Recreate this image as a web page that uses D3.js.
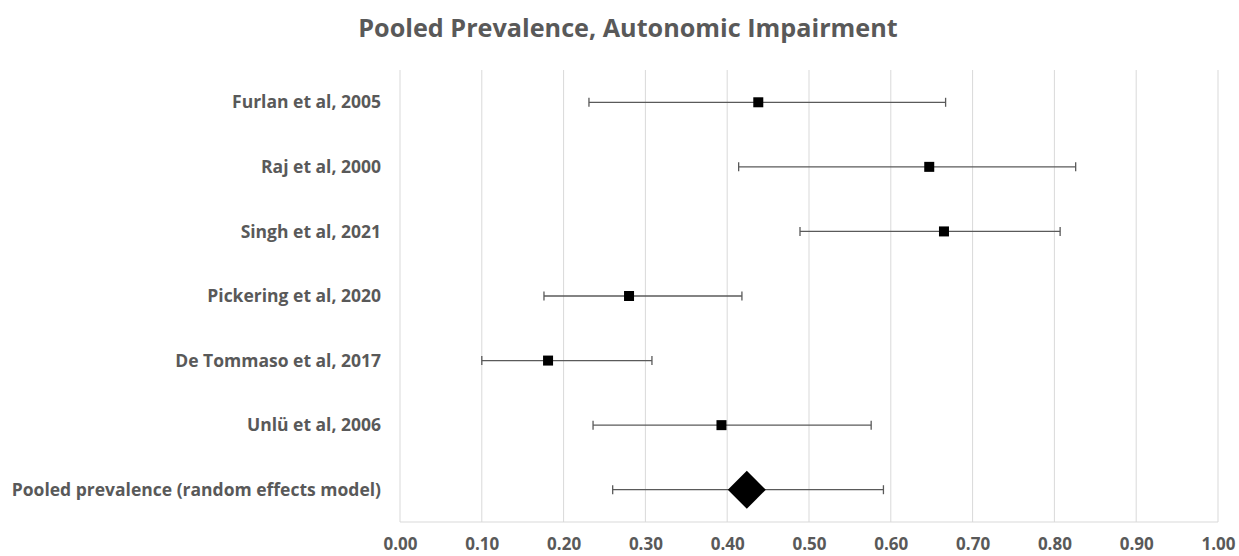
<!DOCTYPE html>
<html>
<head>
<meta charset="utf-8">
<script src="https://cdn.jsdelivr.net/npm/d3@7"></script>
<style>
  body { margin: 0; background: #fff; }
  text { font-family: "Open Sans", Lato, sans-serif; font-weight: bold; fill: #595959; }
</style>
</head>
<body>
<div class="graph"></div>
<script>
// study rows, top to bottom
const studies = ["Furlan et al, 2005", "Raj et al, 2000", "Singh et al, 2021",
  "Pickering et al, 2020", "De Tommaso et al, 2017", "Unlü et al, 2006",
  "Pooled prevalence (random effects model)"];
const prevalence = [0.438, 0.647, 0.665, 0.280, 0.181, 0.393, 0.424];
const lowerCI = [0.231, 0.414, 0.489, 0.176, 0.100, 0.236, 0.260];
const upperCI = [0.667, 0.826, 0.807, 0.418, 0.308, 0.576, 0.591];
const xTicks = [0, 0.1, 0.2, 0.3, 0.4, 0.5, 0.6, 0.7, 0.8, 0.9, 1.0];

var W = 1239, H = 556;
var margin = {top: 70, right: 21, bottom: 34, left: 400};
var width = W - margin.left - margin.right,
    height = H - margin.top - margin.bottom;

var svg = d3.select(".graph")
  .append("svg")
    .attr("width", W)
    .attr("height", H);

svg.append("text")
  .attr("x", 628)
  .attr("y", 37)
  .attr("text-anchor", "middle")
  .style("font-size", "25.2px")
  .text("Pooled Prevalence, Autonomic Impairment");

var g = svg.append("g")
  .attr("transform", "translate(" + margin.left + "," + margin.top + ")");

var x = d3.scaleLinear().domain([0, 1]).range([0, width]);
var y = d3.scaleBand().domain(studies).range([0, height]);

// vertical gridlines
g.append("g")
  .selectAll("line")
  .data(xTicks)
  .enter().append("line")
    .attr("x1", d => x(d)).attr("x2", d => x(d))
    .attr("y1", 0).attr("y2", height)
    .attr("stroke", "#d9d9d9")
    .attr("stroke-width", 1);

g.append("line")
  .attr("x1", 0).attr("x2", width)
  .attr("y1", height).attr("y2", height)
  .attr("stroke", "#d9d9d9");

// x axis labels
var xAxis = g.append("g")
  .attr("transform", "translate(0," + height + ")")
  .call(d3.axisBottom(x).tickValues(xTicks).tickFormat(d3.format(".2f")).tickSize(0).tickPadding(16));
xAxis.select(".domain").remove();
xAxis.selectAll("text").style("font-size", "17px").attr("fill", "#595959");

// y labels
g.selectAll(".ylab")
  .data(studies)
  .enter().append("text")
    .attr("class", "ylab")
    .attr("x", -19)
    .attr("y", d => y(d) + y.bandwidth() / 2)
    .attr("dy", "0.35em")
    .attr("text-anchor", "end")
    .style("font-size", "17.5px")
    .text(d => d);

// error bars
var rows = g.selectAll(".row")
  .data(studies)
  .enter().append("g")
    .attr("class", "row")
    .attr("transform", d => "translate(0," + (y(d) + y.bandwidth() / 2) + ")");

rows.append("line")
  .attr("x1", (d, i) => x(lowerCI[i]))
  .attr("x2", (d, i) => x(upperCI[i]))
  .attr("stroke", "#5a5a5a")
  .attr("stroke-width", 1.3);

rows.append("line")
  .attr("x1", (d, i) => x(lowerCI[i])).attr("x2", (d, i) => x(lowerCI[i]))
  .attr("y1", -4.5).attr("y2", 4.5)
  .attr("stroke", "#5a5a5a").attr("stroke-width", 1.3);

rows.append("line")
  .attr("x1", (d, i) => x(upperCI[i])).attr("x2", (d, i) => x(upperCI[i]))
  .attr("y1", -4.5).attr("y2", 4.5)
  .attr("stroke", "#5a5a5a").attr("stroke-width", 1.3);

// markers: squares for studies, diamond for pooled estimate
var last = studies.length - 1;
rows.filter((d, i) => i < last)
  .append("rect")
    .attr("x", d => x(prevalence[studies.indexOf(d)]) - 5)
    .attr("y", -5)
    .attr("width", 10)
    .attr("height", 10)
    .attr("fill", "#000");

rows.filter((d, i) => i == last)
  .append("path")
    .attr("d", d => {
      var cx = x(prevalence[studies.indexOf(d)]), r = 19;
      return "M" + (cx - r) + ",0L" + cx + "," + (-r) + "L" + (cx + r) + ",0L" + cx + "," + r + "Z";
    })
    .attr("fill", "#000");
</script>
</body>
</html>
